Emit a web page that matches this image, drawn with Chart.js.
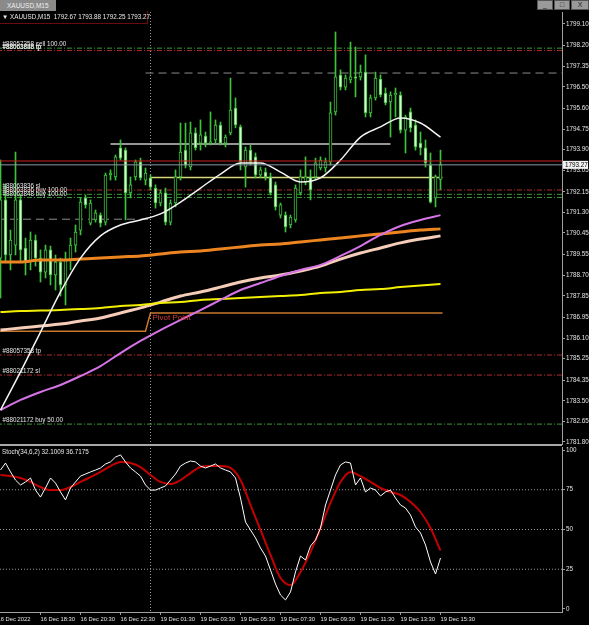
<!DOCTYPE html>
<html><head><meta charset="utf-8">
<script src="https://cdn.jsdelivr.net/npm/chart.js@4/dist/chart.umd.min.js"></script>
<style>
html,body{margin:0;padding:0;background:#000;}
body{width:589px;height:625px;overflow:hidden;position:relative;font-family:'Liberation Sans',sans-serif;}
canvas{position:absolute;}
#main{left:-3px;top:12px;}
#stoch{left:-3px;top:445px;}
.tab{position:absolute;left:0;top:0;height:11px;width:56px;background:#8a8a8a;color:#eee;font-size:6.5px;line-height:11px;padding-left:7px;box-sizing:border-box;}
.hdr{position:absolute;left:0;top:11px;width:148px;height:13px;border-right:1px solid #6a0c0c;border-bottom:1px solid #6a0c0c;box-sizing:border-box;color:#e8e8e8;font-size:6.3px;line-height:11px;padding-left:2px;white-space:pre;}
.sep{position:absolute;left:0;top:444px;width:562px;height:2px;background:#a8a8a8;}
.btn{position:absolute;top:0;width:16px;height:10px;background:#9a9a9a;border:1px solid #555;box-sizing:border-box;color:#222;font-size:7px;line-height:8px;text-align:center;}
.stl{position:absolute;left:2px;top:448px;color:#e8e8e8;font-size:6.3px;white-space:pre;}
</style></head><body>
<canvas id="main" width="592" height="433"></canvas>
<canvas id="stoch" width="592" height="180"></canvas>
<div class="tab">XAUUSD,M15</div>
<div class="hdr">▼ XAUUSD,M15  1792.67 1793.88 1792.25 1793.27</div>
<div class="sep"></div>
<div class="btn" style="left:537px">_</div>
<div class="btn" style="left:554px">□</div>
<div class="btn" style="left:571px;width:18px">X</div>
<div class="stl">Stoch(34,6,2) 32.1009 36.7175</div>
<script>
// ---------- DATA ----------
const opens = [1789.41,1791.82,1789.54,1789.95,1791.82,1789.83,1789.25,1790.16,1789.41,1788.83,
1789.75,1788.71,1789.25,1788.30,1789.33,1789.95,1790.57,1791.90,1790.86,1790.99,
1791.19,1790.90,1792.85,1792.77,1793.97,1793.88,1792.11,1792.77,1793.39,1792.64,
1792.73,1792.31,1791.69,1792.11,1790.90,1791.69,1792.77,1793.88,1793.18,1794.59,
1794.17,1794.46,1794.17,1794.30,1794.92,1794.17,1794.59,1795.62,1794.84,1793.18,
1793.88,1793.60,1792.85,1792.97,1792.77,1792.44,1791.19,1791.19,1790.78,1790.99,
1792.11,1792.56,1792.77,1792.77,1793.14,1793.14,1793.39,1795.46,1796.99,1796.49,
1796.78,1796.91,1796.91,1797.11,1795.42,1796.04,1796.82,1796.24,1795.87,1796.16,
1796.16,1794.71,1795.46,1794.92,1794.17,1793.97,1793.26,1791.90,1792.67];
const highs = [1793.47,1792.44,1790.57,1793.80,1792.02,1790.24,1790.49,1790.37,1789.75,1789.95,
1789.91,1789.54,1789.41,1789.66,1790.24,1790.78,1791.90,1792.02,1791.82,1791.40,
1791.28,1792.93,1793.06,1793.68,1794.30,1793.97,1792.77,1793.47,1793.55,1793.14,
1792.85,1792.44,1792.23,1792.31,1791.82,1793.06,1795.00,1795.00,1795.04,1794.80,
1795.13,1794.63,1795.46,1795.13,1795.04,1794.51,1796.86,1796.04,1794.92,1794.01,
1794.09,1793.76,1793.18,1793.14,1792.93,1792.56,1791.69,1791.32,1791.19,1792.44,
1793.06,1793.60,1793.06,1793.55,1793.60,1793.55,1795.87,1798.77,1797.20,1796.99,
1798.35,1798.15,1797.40,1797.82,1796.16,1797.11,1796.99,1796.45,1796.29,1796.45,
1796.29,1795.33,1795.62,1795.13,1794.63,1794.30,1793.76,1792.85,1793.88];
const lows = [1787.76,1789.25,1788.92,1789.54,1789.25,1788.71,1788.92,1789.08,1788.42,1788.59,
1788.30,1788.09,1787.84,1787.47,1788.92,1789.66,1790.37,1791.48,1790.78,1790.90,
1790.70,1790.78,1792.64,1792.64,1793.47,1790.99,1791.90,1792.64,1792.64,1792.44,
1792.23,1791.48,1791.57,1790.78,1790.78,1791.53,1792.64,1793.14,1793.06,1793.88,
1793.88,1794.01,1794.09,1794.17,1794.09,1794.01,1794.51,1794.80,1793.06,1792.35,
1793.26,1792.73,1792.73,1792.64,1792.02,1791.40,1791.07,1790.49,1790.66,1790.90,
1792.02,1792.44,1791.82,1792.64,1793.06,1792.97,1793.26,1795.33,1796.37,1796.37,
1796.66,1796.08,1796.78,1795.25,1795.25,1795.95,1796.08,1795.75,1794.42,1795.25,
1794.59,1793.76,1794.63,1793.88,1793.68,1793.18,1791.69,1791.53,1792.25];
const closes = [1791.82,1789.54,1790.16,1791.82,1789.75,1789.25,1790.16,1789.41,1788.83,1789.75,
1788.71,1789.25,1788.30,1789.33,1789.95,1790.49,1791.73,1791.61,1791.69,1791.28,
1790.86,1792.85,1792.93,1793.60,1793.55,1792.11,1792.44,1793.39,1792.73,1792.93,
1792.35,1791.69,1792.11,1790.90,1791.69,1792.77,1793.80,1793.26,1794.59,1793.97,
1794.51,1794.17,1794.22,1794.92,1794.17,1794.42,1795.54,1794.92,1793.39,1793.88,
1793.39,1792.85,1793.06,1792.77,1792.11,1791.53,1791.61,1790.70,1791.11,1792.31,
1792.77,1792.77,1792.23,1793.35,1793.47,1793.39,1795.42,1796.91,1796.49,1796.86,
1796.91,1796.86,1797.11,1795.42,1796.04,1796.86,1796.16,1795.83,1796.16,1796.24,
1794.71,1795.25,1794.80,1794.01,1793.97,1793.35,1791.73,1792.77,1793.27];

// moving averages sampled every 4 bars
const maBars = [0,4,8,12,16,20,24,28,32,36,40,44,48,52,56,60,64,68,72,76,80,84,88];
const maWhite = [1783.12,1784.70,1786.35,1788.01,1789.41,1790.33,1790.78,1790.99,1791.24,1791.73,1792.31,1792.89,1793.35,1793.35,1792.97,1792.56,1792.73,1793.47,1794.42,1794.84,1795.21,1795.00,1794.42];
const maPeach = [1786.43,1786.52,1786.60,1786.68,1786.81,1786.93,1787.14,1787.35,1787.59,1787.84,1788.01,1788.21,1788.42,1788.59,1788.71,1788.88,1789.08,1789.37,1789.62,1789.83,1790.04,1790.20,1790.33];
const maOrange = [1789.25,1789.25,1789.33,1789.33,1789.37,1789.41,1789.46,1789.50,1789.58,1789.66,1789.70,1789.79,1789.87,1789.95,1789.99,1790.08,1790.16,1790.24,1790.33,1790.41,1790.49,1790.57,1790.62];
const maYellow = [1787.18,1787.22,1787.24,1787.26,1787.30,1787.35,1787.43,1787.47,1787.55,1787.59,1787.68,1787.72,1787.76,1787.80,1787.84,1787.88,1787.97,1788.01,1788.09,1788.13,1788.21,1788.28,1788.34];
const maViolet = [1783.12,1783.54,1783.87,1784.16,1784.53,1784.94,1785.48,1785.98,1786.43,1786.85,1787.26,1787.68,1788.09,1788.38,1788.67,1788.92,1789.13,1789.50,1789.91,1790.37,1790.74,1790.99,1791.19];

// stochastic
const stochK = [87.4,91.8,86.2,81.1,78.0,79.9,82.4,74.8,70.4,76.1,
82.4,79.2,73.6,68.6,76.1,79.9,83.6,84.9,86.2,87.4,
88.7,91.2,92.5,95.6,96.9,92.5,88.7,86.2,83.6,78.0,
74.8,74.8,76.1,77.4,81.1,84.9,89.9,91.8,93.1,92.5,
89.9,88.7,89.9,91.2,88.7,87.4,86.2,82.4,69.8,54.7,
49.7,44.7,38.4,33.3,24.5,15.7,8.8,5.7,10.7,23.3,
33.3,30.8,39.6,43.4,50.9,65.4,74.8,84.3,90.6,92.5,
91.8,78.0,82.4,73.6,76.1,74.8,71.1,73.6,74.8,69.8,
65.4,63.5,59.1,51.6,47.8,40.3,29.6,22.0,32.1];
const stochDBars = [0,2,4,6,8,10,12,14,16,18,20,22,24,26,28,30,32,34,36,38,40,42,44,46,48,50,52,54,56,58,60,62,64,66,68,70,72,74,76,78,80,82,84,86,88];
const stochD = [84.3,83.6,82.4,79.9,76.7,74.8,74.8,76.7,79.9,83.0,86.2,89.9,92.5,91.8,89.3,84.3,79.9,78.6,81.1,85.5,89.3,89.9,89.9,88.7,81.1,65.4,49.7,34.0,19.5,15.1,23.3,35.8,50.9,66.7,79.9,86.2,83.6,79.9,76.1,73.6,71.7,67.3,61.0,50.9,36.7];
const stochLevels = [25, 50, 75];
const stochTicks = [0, 25, 50, 75, 100];

// axes
const priceTicks = [1799.10,1798.20,1797.35,1796.50,1795.60,1794.75,1793.90,1793.05,1792.15,1791.30,1790.45,1789.55,1788.70,1787.85,1786.95,1786.10,1785.25,1784.35,1783.50,1782.65,1781.80];
const timeTickBars = [-0.6, 8, 16, 24, 32, 40, 48, 56, 64, 72, 80, 88];
const timeTickLabels = ['16 Dec 2022','16 Dec 18:30','16 Dec 20:30','16 Dec 22:30','19 Dec 01:30','19 Dec 03:30','19 Dec 05:30','19 Dec 07:30','19 Dec 09:30','19 Dec 11:30','19 Dec 13:30','19 Dec 15:30'];
const daySeparatorBar = 30;

// trade levels
const orderLevels = [1798.10, 1798.00, 1792.23, 1792.05, 1791.92, 1785.40, 1784.57, 1782.54];
const orderKinds  = ['entry','stop','stop','entry','entry','stop','stop','entry'];
const orderTexts  = [['#88057358 sell 100.00'], ['#88063836 tp','#88063848 tp'], ['#88063836 sl'], ['#88063836 buy 100.00'], ['#88063848 buy 100.00'], ['#88057358 tp'], ['#88021172 sl'], ['#88021172 buy 50.00']];
const askPrice = 1793.43;
const bidPrice = 1793.27;
const dashedLevels = [1797.07, 1791.02];
const trendLevel = 1794.13;
const khakiLevel = 1792.75;
const pivotLevels = [1786.38, 1787.14];
const pivotText = 'Pivot Point';

// ---------- STYLE / LAYOUT ----------
const X_MIN = -0.7, X_MAX = 112.3;
const Y_MIN = 1781.675, Y_MAX = 1799.596;
const GREEN = '#3ec23e';
const BEAR_FILL = '#d8f6cf';
const AXIS = '#a0a0a0';
const TXT = '#e4e4e4';
const YFONT = {family:'Liberation Sans', size:6.3};
const XFONT = {family:'Liberation Sans', size:5.8};

function hline(val, x0, x1, color, width, dash, order) {
  return {type:'line', data:[{x:x0,y:val},{x:x1,y:val}], borderColor:color, borderWidth:width,
          borderDash:dash||[], pointRadius:0, tension:0, order:order};
}
function maLine(vals, color, width, order) {
  return {type:'line', data:vals.map((v,k)=>({x:maBars[k], y:v})), borderColor:color, borderWidth:width,
          pointRadius:0, cubicInterpolationMode:'monotone', order:order};
}

const mainSets = [];
orderLevels.forEach((v,k)=>{
  mainSets.push(hline(v, X_MIN, X_MAX, orderKinds[k]==='entry' ? '#3a9a3a' : '#b02a2a', 1, [5,2,1,2], 20));
});
mainSets.push(hline(dashedLevels[0], 29, X_MAX, '#8c8c8c', 1, [8,5], 20));
mainSets.push(hline(dashedLevels[1], X_MIN, 30, '#8c8c8c', 1, [8,5], 20));
mainSets.push(hline(trendLevel, 22, 78, '#c8c8c8', 1.5, [], 19));
mainSets.push(hline(khakiLevel, 30, 88.4, '#d6d67a', 1.5, [], 19));
mainSets.push({type:'line', data:[{x:X_MIN,y:pivotLevels[0]},{x:29,y:pivotLevels[0]},{x:30,y:pivotLevels[1]},{x:88.4,y:pivotLevels[1]}],
  borderColor:'#c8782e', borderWidth:1.5, pointRadius:0, tension:0, order:18});
mainSets.push({type:'bar', data:lows.map((l,i)=>({x:i, y:[l, highs[i]]})), backgroundColor:GREEN,
  barThickness:1, grouped:false, order:6});
mainSets.push({type:'bar', data:opens.map((o,i)=>({x:i, y:[o, closes[i]]})),
  backgroundColor:opens.map((o,i)=> closes[i] < o ? BEAR_FILL : '#000'),
  borderColor:GREEN, borderWidth:1, borderSkipped:false, barThickness:3, grouped:false, order:5});
mainSets.push(maLine(maOrange, '#ec8420', 3, 4));
mainSets.push(maLine(maYellow, '#f2f000', 2, 3));
mainSets.push(maLine(maPeach, '#f6cdb8', 3, 3));
mainSets.push(maLine(maViolet, '#d673e6', 2, 2));
mainSets.push(maLine(maWhite, '#f4f4f4', 1.5, 1));
mainSets.push(hline(askPrice, X_MIN, X_MAX, '#c82020', 1, [], 0));
mainSets.push(hline(bidPrice, X_MIN, X_MAX, '#8a96a6', 1, [], 0));

function drawSeparator(chart) {
  const {ctx, chartArea, scales:{x}} = chart;
  const px = Math.round(x.getPixelForValue(daySeparatorBar)) - 0.5;
  ctx.save();
  ctx.strokeStyle = '#9a9a9a'; ctx.lineWidth = 1; ctx.setLineDash([1,2]);
  ctx.beginPath(); ctx.moveTo(px, 0); ctx.lineTo(px, chartArea.bottom); ctx.stroke();
  ctx.restore();
}

const mainPlugin = {
  id:'mainDeco',
  beforeDatasetsDraw(chart){ drawSeparator(chart); },
  afterDatasetsDraw(chart){
    const {ctx, scales:{x,y}} = chart;
    ctx.save();
    ctx.font = '6.3px "Liberation Sans"';
    ctx.fillStyle = TXT; ctx.textBaseline = 'bottom'; ctx.textAlign = 'left';
    const lx = x.getPixelForValue(0) + 2;
    orderLevels.forEach((v,k)=>{
      orderTexts[k].forEach(t=> ctx.fillText(t, lx, y.getPixelForValue(v) - 0.5));
    });
    ctx.font = '8px "Liberation Sans"';
    ctx.fillStyle = '#d23c3c'; ctx.textBaseline = 'top';
    ctx.fillText(pivotText, x.getPixelForValue(daySeparatorBar) + 2, y.getPixelForValue(pivotLevels[1]) + 1);
    ctx.restore();
  },
  afterDraw(chart){
    const {ctx, chartArea, scales:{y}} = chart;
    const py = y.getPixelForValue(bidPrice);
    ctx.save();
    ctx.fillStyle = '#f2f2f2';
    ctx.fillRect(chartArea.right + 1, py - 4, 25, 8);
    ctx.fillStyle = '#000'; ctx.font = '6.3px "Liberation Sans"';
    ctx.textBaseline = 'middle'; ctx.textAlign = 'left';
    ctx.fillText(bidPrice.toFixed(2), chartArea.right + 3, py);
    ctx.restore();
  }
};

new Chart(document.getElementById('main'), {
  type:'bar',
  data:{datasets:mainSets},
  options:{
    responsive:false, animation:false, events:[],
    layout:{padding:0},
    plugins:{legend:{display:false}, tooltip:{enabled:false}},
    scales:{
      x:{type:'linear', min:X_MIN, max:X_MAX, offset:false, display:false},
      y:{type:'linear', position:'right', min:Y_MIN, max:Y_MAX,
         afterBuildTicks(s){ s.ticks = priceTicks.map(v=>({value:v})); },
         ticks:{color:TXT, font:YFONT, padding:1, autoSkip:false, callback:(v)=>Number(v).toFixed(2)},
         grid:{drawOnChartArea:false, tickLength:3, color:AXIS},
         border:{color:AXIS, width:1},
         afterFit(s){ s.width = 27; s.paddingTop = 0; s.paddingBottom = 0; }}
    }
  },
  plugins:[mainPlugin]
});

const stochSets = [];
stochLevels.forEach(v=> stochSets.push(hline(v, X_MIN, X_MAX, '#9a9a9a', 1, [1,2], 10)));
stochSets.push({type:'line', data:stochDBars.map((b,k)=>({x:b, y:stochD[k]})), borderColor:'#c40000', borderWidth:2,
  pointRadius:0, cubicInterpolationMode:'monotone', order:2});
stochSets.push({type:'line', data:stochK.map((v,i)=>({x:i, y:v})), borderColor:'#ffffff', borderWidth:1,
  pointRadius:0, tension:0, order:1});

new Chart(document.getElementById('stoch'), {
  type:'line',
  data:{datasets:stochSets},
  options:{
    responsive:false, animation:false, events:[],
    layout:{padding:{top:2}},
    plugins:{legend:{display:false}, tooltip:{enabled:false}},
    scales:{
      x:{type:'linear', min:X_MIN, max:X_MAX, offset:false,
         afterBuildTicks(s){ s.ticks = timeTickBars.map(v=>({value:v})); },
         ticks:{color:TXT, font:XFONT, autoSkip:false, maxRotation:0, minRotation:0, align:'start', padding:1,
                callback:(v,i)=>timeTickLabels[i]},
         grid:{drawOnChartArea:false, tickLength:3, color:AXIS},
         border:{color:AXIS, width:1},
         afterFit(s){ s.height = 13; s.paddingLeft = 0; s.paddingRight = 0; }},
      y:{type:'linear', position:'right', min:-1.89, max:101.89,
         afterBuildTicks(s){ s.ticks = stochTicks.map(v=>({value:v})); },
         ticks:{color:TXT, font:YFONT, padding:1, autoSkip:false, callback:(v)=>String(v)},
         grid:{drawOnChartArea:false, tickLength:3, color:AXIS},
         border:{color:AXIS, width:1},
         afterFit(s){ s.width = 27; s.paddingTop = 0; s.paddingBottom = 0; }}
    }
  },
  plugins:[{id:'sep', beforeDatasetsDraw(chart){ drawSeparator(chart); }}]
});
</script>
</body></html>
